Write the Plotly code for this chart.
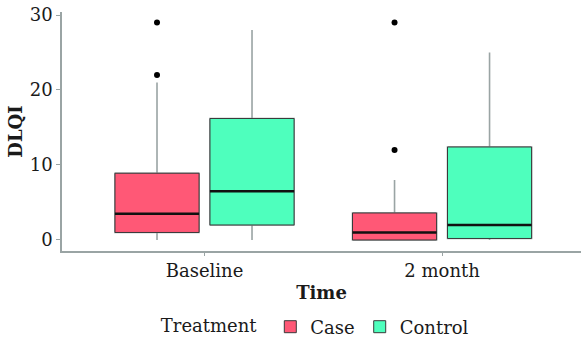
import plotly.graph_objects as go

# ---- data ----
times = ["Baseline", "2 month"]
groups = ["Case", "Control"]
colors = {"Case": "#FF5876", "Control": "#4EFFBD"}

q1 = {"Case": [1.0, 0.0], "Control": [2.0, 0.2]}
median = {"Case": [3.5, 1.0], "Control": [6.5, 2.0]}
q3 = {"Case": [8.9, 3.6], "Control": [16.2, 12.4]}
lower = {"Case": [0.0, 0.0], "Control": [0.0, 0.0]}
upper = {"Case": [21.0, 8.0], "Control": [28.0, 25.0]}
outliers = {"Case": [[22, 29], [12, 29]], "Control": [[], []]}

# ---- layout constants ----
pos = [1, 2]
dodge = {"Case": -0.2, "Control": 0.2}
bw = 0.354
FF = "DejaVu Serif"
FC = "#1a1a1a"

fig = go.Figure()
for g in groups:
    xs = [p + dodge[g] for p in pos]
    # whiskers (gray)
    fig.add_trace(go.Box(x=xs, q1=q1[g], median=median[g], q3=q3[g],
                         lowerfence=lower[g], upperfence=upper[g],
                         width=bw, whiskerwidth=0, boxpoints=False,
                         fillcolor=colors[g], line=dict(color="#9aa4a4", width=1.6),
                         showlegend=False, hoverinfo="skip"))
    # box body (dark outline)
    fig.add_trace(go.Box(x=xs, q1=q1[g], median=median[g], q3=q3[g],
                         lowerfence=q1[g], upperfence=q3[g],
                         width=bw, whiskerwidth=0, boxpoints=False,
                         fillcolor=colors[g], line=dict(color="#3a3a3a", width=1),
                         name=g, showlegend=True))
    # median (black, thick)
    fig.add_trace(go.Box(x=xs, q1=median[g], median=median[g], q3=median[g],
                         lowerfence=median[g], upperfence=median[g],
                         width=bw, whiskerwidth=0, boxpoints=False,
                         fillcolor="rgba(0,0,0,0)", line=dict(color="#111111", width=2.4),
                         showlegend=False, hoverinfo="skip"))
    # outliers
    ox, oy = [], []
    for i, vals in enumerate(outliers[g]):
        for v in vals:
            ox.append(pos[i] + dodge[g])
            oy.append(v)
    if ox:
        fig.add_trace(go.Scatter(x=ox, y=oy, mode="markers",
                                 marker=dict(color="black", size=6),
                                 showlegend=False))

fig.update_layout(
    width=581, height=343,
    margin=dict(l=62, r=0, t=12, b=92, autoexpand=False),
    plot_bgcolor="white", paper_bgcolor="white",
    boxmode="overlay",
    font=dict(family=FF, size=18, color=FC),
    showlegend=True,
    legend=dict(orientation="h", x=0.49, xanchor="center", y=-0.318, yanchor="middle",
                title=dict(text="Treatment ", side="left",
                           font=dict(family=FF, size=18, color=FC)),
                font=dict(family=FF, size=18, color=FC), itemwidth=30,
                valign="middle", bgcolor="rgba(0,0,0,0)"),
)
fig.update_xaxes(range=[0.4, 2.585], tickmode="array", tickvals=pos, ticktext=times,
                 showline=True, linecolor="#9aa4a4", linewidth=1.6,
                 ticks="outside", ticklen=3, tickcolor="#9aa4a4",
                 showgrid=False, zeroline=False, automargin=False,
                 tickfont=dict(family=FF, size=18, color=FC),
                 title=dict(text="<b>Time</b>", font=dict(family=FF, size=18, color=FC),
                            standoff=6))
fig.update_yaxes(range=[-1.47, 30.4], tickvals=[0, 10, 20, 30],
                 showline=True, linecolor="#9aa4a4", linewidth=1.6,
                 ticks="outside", ticklen=4, tickcolor="#9aa4a4",
                 showgrid=False, zeroline=False, automargin=False,
                 tickfont=dict(family=FF, size=18, color=FC),
                 title=dict(text="<b>DLQI</b>", font=dict(family=FF, size=18, color=FC),
                            standoff=2))

fig.write_html("out.html")
